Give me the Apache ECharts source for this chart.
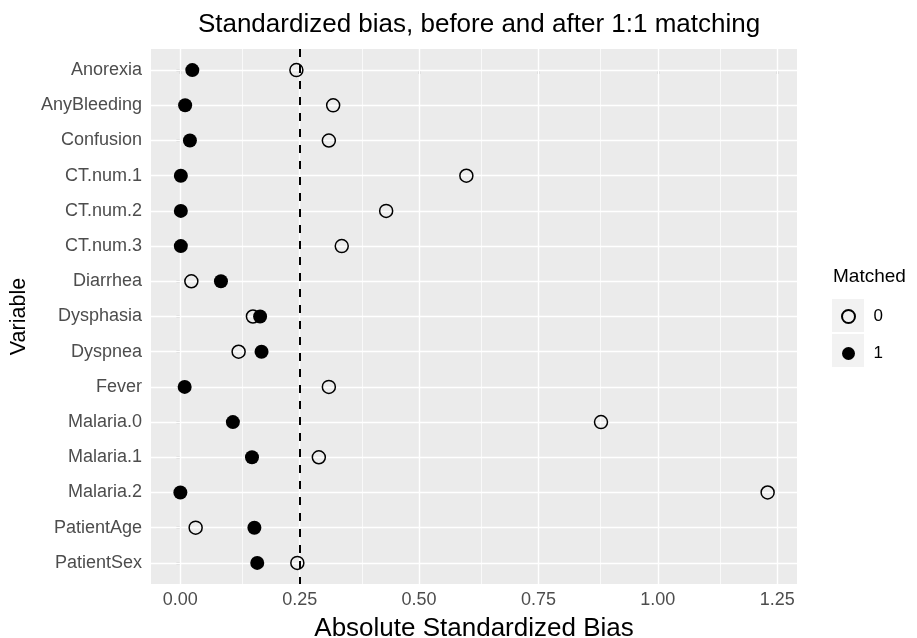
<!DOCTYPE html>
<html lang="en">
<head>
<meta charset="utf-8">
<title>Standardized bias</title>
<script src="https://cdn.jsdelivr.net/npm/echarts@6.0.0/dist/echarts.min.js"></script>
<style>
  html, body { margin: 0; padding: 0; background: #fff; }
  #main { width: 917px; height: 638px; }
</style>
</head>
<body>
<div id="main"></div>
<script>
// variables, top to bottom
var variables = ['Anorexia', 'AnyBleeding', 'Confusion', 'CT.num.1', 'CT.num.2', 'CT.num.3',
  'Diarrhea', 'Dysphasia', 'Dyspnea', 'Fever', 'Malaria.0', 'Malaria.1', 'Malaria.2',
  'PatientAge', 'PatientSex'];
// Matched = 0 (before matching)
var biasUnmatched = [0.243, 0.320, 0.311, 0.599, 0.431, 0.338, 0.023, 0.152, 0.122,
  0.311, 0.881, 0.290, 1.230, 0.032, 0.245];
// Matched = 1 (after matching)
var biasMatched = [0.025, 0.010, 0.020, 0.001, 0.001, 0.001, 0.085, 0.167, 0.170,
  0.009, 0.110, 0.150, 0.000, 0.155, 0.161];
var xTicks = [0, 0.25, 0.5, 0.75, 1, 1.25];
var xMinor = [0.125, 0.375, 0.625, 0.875, 1.125];
var threshold = 0.25;

var font = 'Liberation Sans, Arial, Helvetica, sans-serif';

// discrete axis as positions 0..n-1 (ggplot pads 0.6 of a step each side)
var yPos = variables.map(function (v, i) { return i; });

function pairs(vals) {
  return vals.map(function (v, i) { return [v, i]; });
}

var gridLines = [];
yPos.forEach(function (p) {
  gridLines.push({ yAxis: p, lineStyle: { width: 1.4 } });
});
xTicks.forEach(function (v) {
  gridLines.push({ xAxis: v, lineStyle: { width: 1.4 } });
});
xMinor.forEach(function (v) {
  gridLines.push({ xAxis: v, lineStyle: { width: 0.7 } });
});

var myChart = echarts.init(document.getElementById('main'));
var option = {
  animation: false,
  textStyle: { fontFamily: font },
  title: {
    text: 'Standardized bias, before and after 1:1 matching',
    left: 474,
    textAlign: 'center',
    top: 7,
    textStyle: { fontSize: 26, fontWeight: 'normal', color: '#000', fontFamily: font }
  },
  grid: {
    left: 151, right: 120, top: 49, bottom: 54,
    containLabel: false,
    outerBoundsMode: 'none',
    show: true, backgroundColor: '#EBEBEB', borderWidth: 0
  },
  xAxis: {
    type: 'value',
    min: -0.0615,
    max: 1.2915,
    name: 'Absolute Standardized Bias',
    nameLocation: 'middle',
    nameGap: 32,
    nameTextStyle: { fontSize: 26, color: '#000', fontFamily: font },
    axisLine: { show: false },
    axisTick: { show: true, length: 4, customValues: xTicks, lineStyle: { color: '#333', width: 1.2 } },
    axisLabel: {
      customValues: xTicks,
      fontSize: 18, color: '#4D4D4D', margin: 7,
      formatter: function (v) { return v.toFixed(2); }
    },
    splitLine: { show: false }
  },
  yAxis: {
    type: 'value',
    min: -0.6,
    max: variables.length - 0.4,
    inverse: true,
    name: 'Variable',
    nameLocation: 'middle',
    nameGap: 112,
    nameRotate: 90,
    nameTextStyle: { fontSize: 21.5, color: '#000', fontFamily: font },
    axisLine: { show: false },
    axisTick: { show: true, length: 4, customValues: yPos, lineStyle: { color: '#333', width: 1.2 } },
    axisLabel: {
      customValues: yPos,
      fontSize: 18, color: '#4D4D4D', margin: 9,
      formatter: function (v) { return variables[Math.round(v)]; }
    },
    splitLine: { show: false }
  },
  legend: {
    orient: 'vertical',
    left: 836,
    top: 303,
    itemWidth: 40,
    itemHeight: 13,
    itemGap: 20,
    icon: 'circle',
    data: ['0', '1'],
    textStyle: { fontSize: 17, color: '#000', fontFamily: font },
    selectedMode: false
  },
  graphic: [
    { type: 'rect', left: 832, top: 299, shape: { width: 32, height: 33 }, style: { fill: '#F2F2F2' }, z: -1 },
    { type: 'rect', left: 832, top: 334, shape: { width: 32, height: 33 }, style: { fill: '#F2F2F2' }, z: -1 },
    { type: 'text', left: 833, top: 267, style: { text: 'Matched', fontSize: 19, fill: '#000', fontFamily: font } }
  ],
  series: [
    {
      type: 'scatter',
      name: 'grid',
      data: [],
      z: 1,
      silent: true,
      markLine: {
        z: 1,
        silent: true,
        symbol: 'none',
        label: { show: false },
        lineStyle: { color: '#FFFFFF', type: 'solid' },
        data: gridLines
      }
    },
    {
      type: 'scatter',
      name: 'threshold',
      data: [],
      z: 2,
      silent: true,
      markLine: {
        z: 2,
        silent: true,
        symbol: 'none',
        label: { show: false },
        lineStyle: { color: '#000', type: [8, 8], width: 2 },
        data: [{ xAxis: threshold }]
      }
    },
    {
      type: 'scatter',
      name: '0',
      data: pairs(biasUnmatched),
      symbol: 'circle',
      symbolSize: 13,
      z: 3,
      itemStyle: { color: 'rgba(0,0,0,0)', borderColor: '#000', borderWidth: 1.5, opacity: 1 }
    },
    {
      type: 'scatter',
      name: '1',
      data: pairs(biasMatched),
      symbol: 'circle',
      symbolSize: 14,
      z: 3,
      itemStyle: { color: '#000', opacity: 1 }
    }
  ]
};
myChart.setOption(option);
</script>
</body>
</html>
